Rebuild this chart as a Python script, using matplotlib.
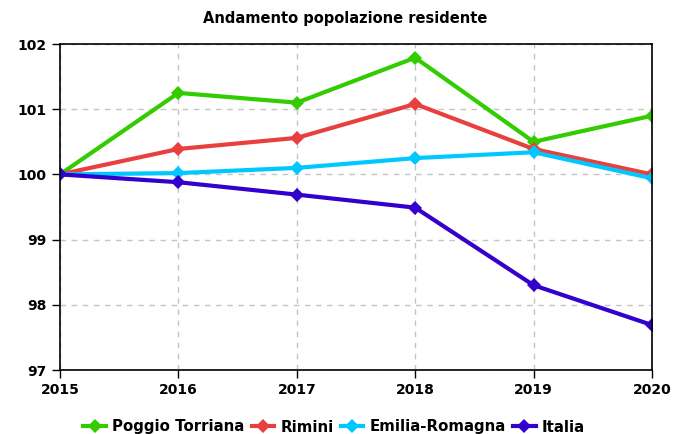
import matplotlib
matplotlib.use("Agg")
import matplotlib.pyplot as plt

years = [2015, 2016, 2017, 2018, 2019, 2020]
poggio = [100.0, 101.25, 101.10, 101.79, 100.50, 100.90]
rimini = [100.0, 100.39, 100.56, 101.08, 100.39, 100.00]
emilia = [100.0, 100.02, 100.10, 100.25, 100.34, 99.94]
italia = [100.0, 99.88, 99.69, 99.49, 98.30, 97.69]
series_names = ["Poggio Torriana", "Rimini", "Emilia-Romagna", "Italia"]
colors = ["#33cc00", "#e8403f", "#00c8ff", "#3300cc"]

plt.rcParams['font.family'] = ['DejaVu Sans']
fig = plt.figure(figsize=(6.75, 4.34), dpi=100)
ax = fig.add_axes([60/675, 1-370/434, (652-60)/675, (370-44)/434])

for vals, name, c in zip([poggio, rimini, emilia, italia], series_names, colors):
    ax.plot(years, vals, color=c, lw=3.0, marker='D', markersize=7.5,
            markeredgewidth=0, label=name, clip_on=True)

ax.set_xlim(2015, 2020)
ax.set_ylim(97, 102)
ax.set_xticks(years)
ax.set_yticks([97, 98, 99, 100, 101, 102])
ax.grid(True, color='#c4c4c4', linestyle=(0, (4, 4)), lw=1)
ax.tick_params(direction='out', length=6, width=1, labelsize=10)
for lab in ax.get_xticklabels() + ax.get_yticklabels():
    lab.set_fontweight('bold')
for s in ax.spines.values():
    s.set_linewidth(1.2)

fig.text(345/675, 1-19/434, "Andamento popolazione residente", ha='center', va='center',
         fontsize=10.5, fontweight='bold')

leg = fig.legend(loc='center', bbox_to_anchor=(0.495, 1-427/434), ncol=4, frameon=False,
                 prop={'weight': 'bold', 'size': 10.8}, handlelength=1.5, handletextpad=0.4,
                 columnspacing=0.5)

fig.savefig("out.png", dpi=100)
